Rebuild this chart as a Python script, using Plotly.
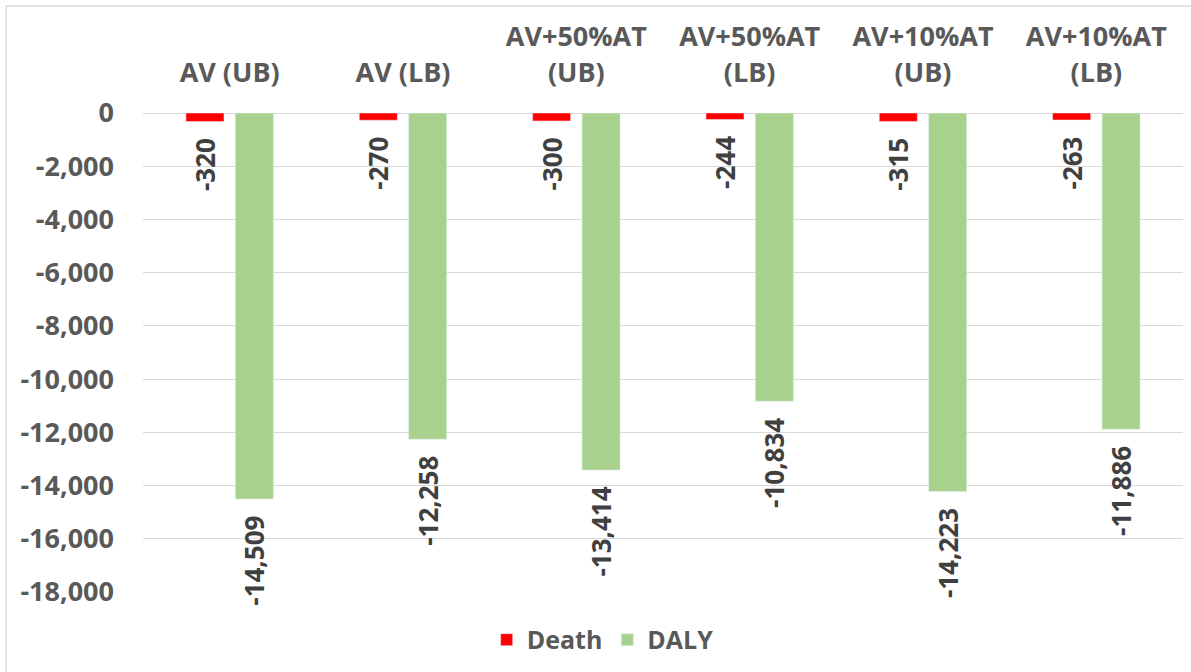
import plotly.graph_objects as go

categories = ["AV (UB)", "AV (LB)", "AV+50%AT<br>(UB)", "AV+50%AT<br>(LB)", "AV+10%AT<br>(UB)", "AV+10%AT<br>(LB)"]
death = [-320, -270, -300, -244, -315, -263]
daly = [-14509, -12258, -13414, -10834, -14223, -11886]
y_ticks = list(range(-18000, 1, 2000))
y_tick_text = [f"{v:,}" for v in y_ticks]

FONT = "Open Sans"
TICK_COLOR = "#595959"
LABEL_COLOR = "#404040"

fig = go.Figure()
for name, vals, color in [("Death", death, "#FF0000"), ("DALY", daly, "#A9D18E")]:
    fig.add_trace(go.Bar(
        name=name, x=categories, y=vals, marker_color=color,
        texttemplate="%{y:,}\u00a0\u00a0", textposition="outside", textangle=-90,
        constraintext="none", cliponaxis=False,
        textfont=dict(family=FONT, size=26, color=LABEL_COLOR, weight="bold"),
    ))

fig.update_layout(
    width=1191, height=672,
    margin=dict(l=143, r=8, t=113, b=80, autoexpand=False),
    paper_bgcolor="white", plot_bgcolor="white",
    barmode="group", bargap=0.43, bargroupgap=0.23,
    font=dict(family=FONT, size=26, color=TICK_COLOR, weight="bold"),
    legend=dict(orientation="h", x=0.442, xanchor="center", y=-0.1, yanchor="middle",
                font=dict(family=FONT, size=25, color=TICK_COLOR, weight="bold"),
                traceorder="normal"),
    xaxis=dict(side="top", showline=False, ticks="", showgrid=False, automargin=False,
               ticklabelstandoff=25,
               tickfont=dict(family=FONT, size=27, color=TICK_COLOR, weight="bold")),
    yaxis=dict(range=[-18000, 0], tickvals=y_ticks, ticktext=y_tick_text, automargin=False,
               showgrid=True, gridcolor="#d9d9d9", gridwidth=1,
               zeroline=True, zerolinecolor="#d9d9d9", zerolinewidth=1,
               showline=False, ticks="", ticklabelstandoff=28,
               tickfont=dict(family=FONT, size=27, color=TICK_COLOR, weight="bold")),
    showlegend=True,
)
fig.add_shape(type="rect", xref="paper", yref="paper",
              x0=-0.1317, x1=1.05, y0=-0.3, y1=1.2234,
              line=dict(color="#d9d9d9", width=1.5), fillcolor="rgba(0,0,0,0)", layer="below")

fig.write_html("out.html", config={"displayModeBar": False},
               post_script="document.body.style.margin='0';")
